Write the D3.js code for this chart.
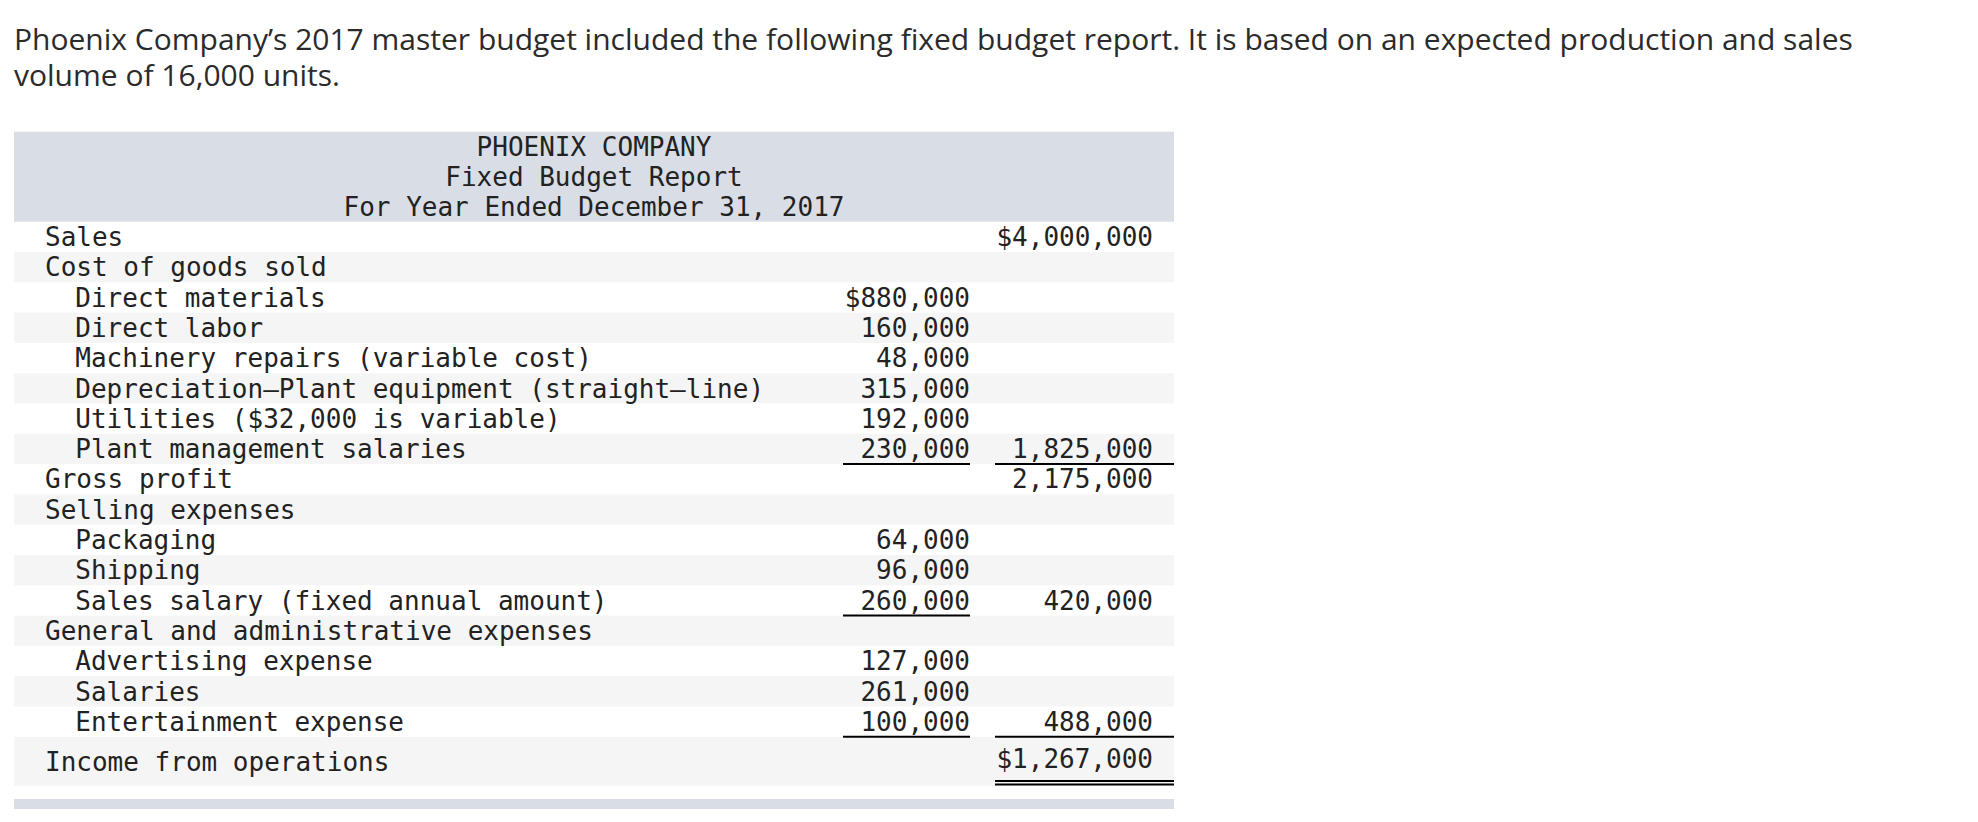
<!DOCTYPE html>
<html>
<head>
<meta charset="utf-8">
<script src="https://cdn.jsdelivr.net/npm/d3@7"></script>
<style>
  html, body { margin: 0; padding: 0; background: #ffffff; }
  svg { display: block; }
</style>
</head>
<body>
<svg id="chart" width="1978" height="822"></svg>
<script>
// ---------- data ----------
const introLines = [
  "Phoenix Company\u2019s 2017 master budget included the following fixed budget report. It is based on an expected production and sales",
  "volume of 16,000 units."
];
const headerLines = ["PHOENIX COMPANY", "Fixed Budget Report", "For Year Ended December 31, 2017"];
const labels = [
  "Sales",
  "Cost of goods sold",
  "Direct materials",
  "Direct labor",
  "Machinery repairs (variable cost)",
  "Depreciation\u2014Plant equipment (straight\u2013line)",
  "Utilities ($32,000 is variable)",
  "Plant management salaries",
  "Gross profit",
  "Selling expenses",
  "Packaging",
  "Shipping",
  "Sales salary (fixed annual amount)",
  "General and administrative expenses",
  "Advertising expense",
  "Salaries",
  "Entertainment expense",
  "Income from operations"
];
const indentLevels = [0,0,1,1,1,1,1,1,0,0,1,1,1,0,1,1,1,0];
const col1Values = [null,null,880000,160000,48000,315000,192000,230000,null,null,64000,96000,260000,null,127000,261000,100000,null];
const col2Values = [4000000,null,null,null,null,null,null,1825000,2175000,null,null,null,420000,null,null,null,488000,1267000];
const col1Dollar = [2];
const col2Dollar = [0,17];
const col1Underline = [7,12,16];
const col2Underline = [7,16];
const col2DoubleUnderline = [17];

// ---------- layout ----------
const svg = d3.select("#chart");
const tableLeft = 14, tableRight = 1174;
const headerTop = 131.7, headerRowH = 30;
const bodyTop = 221.7, lastRowTop = 736.8, lastRowBottom = 786;
const nRows = labels.length;
const HEADER_BG = "#d9dde6", ZEBRA = "#f5f5f5", INK = "#222222";
const MONO = "'DejaVu Sans Mono', monospace";

// row scale (row index -> top y)
const y = d3.scaleLinear().domain([0, nRows - 1]).range([bodyTop, lastRowTop]);
const rowTop = i => y(i);
const rowBottom = i => (i < nRows - 1 ? y(i + 1) : lastRowBottom);

// column scales
const colX = d3.scaleOrdinal().domain(["col1", "col2"]).range([970, 1153]);
const colLineStart = d3.scaleOrdinal().domain(["col1", "col2"]).range([843, 995]);
const colLineEnd = d3.scaleOrdinal().domain(["col1", "col2"]).range([970, 1174]);
const labelX = d3.scaleLinear().domain([0, 1]).range([45, 75.3]);

const fmt = d3.format(",");

// ---------- intro text ----------
const intro = svg.append("g").attr("class", "intro")
  .attr("font-family", "'Open Sans', Lato, sans-serif")
  .attr("fill", "#2b2b2b");
const introBase = [49.5, 86];
const introT = intro.selectAll("text").data(introLines).join("text")
  .attr("x", 14)
  .attr("y", (d, i) => introBase[i])
  .attr("font-size", 28)
  .text(d => d);
const w0 = introT.nodes()[0].getComputedTextLength();
const fs = 28 * 1840 / w0;
introT.attr("font-size", fs);

// ---------- header band ----------
svg.append("rect")
  .attr("x", tableLeft).attr("y", headerTop)
  .attr("width", tableRight - tableLeft).attr("height", bodyTop - headerTop)
  .attr("fill", HEADER_BG);
svg.append("g").selectAll("text").data(headerLines).join("text")
  .attr("x", (tableLeft + tableRight) / 2)
  .attr("y", (d, i) => headerTop + headerRowH * (i + 1) - 6)
  .attr("text-anchor", "middle")
  .attr("font-family", MONO).attr("font-size", 26).attr("fill", INK)
  .text(d => d);

// ---------- zebra rows ----------
const rows = d3.range(nRows);
svg.append("g").selectAll("rect").data(rows.filter(i => i % 2 === 1)).join("rect")
  .attr("x", tableLeft).attr("width", tableRight - tableLeft)
  .attr("y", i => rowTop(i)).attr("height", i => rowBottom(i) - rowTop(i))
  .attr("fill", ZEBRA);

// baseline for each row
const labelBase = i => (i === nRows - 1 ? 771 : rowBottom(i) - 6);
const numBase = i => (i === nRows - 1 ? 768 : rowBottom(i) - 6);

// ---------- labels ----------
svg.append("g").selectAll("text").data(rows).join("text")
  .attr("x", i => labelX(indentLevels[i]))
  .attr("y", i => labelBase(i))
  .attr("font-family", MONO).attr("font-size", 26).attr("fill", INK)
  .attr("xml:space", "preserve")
  .text(i => labels[i]);

// ---------- numbers ----------
function drawCol(key, values, dollarRows) {
  const data = rows.filter(i => values[i] !== null);
  svg.append("g").selectAll("text").data(data).join("text")
    .attr("x", colX(key))
    .attr("y", i => numBase(i))
    .attr("text-anchor", "end")
    .attr("font-family", MONO).attr("font-size", 26).attr("fill", INK)
    .text(i => (dollarRows.includes(i) ? "$" : "") + fmt(values[i]));
}
drawCol("col1", col1Values, col1Dollar);
drawCol("col2", col2Values, col2Dollar);

// ---------- underlines ----------
function drawUnder(key, rowList, offsets) {
  const g = svg.append("g");
  rowList.forEach(i => {
    offsets.forEach(off => {
      g.append("line")
        .attr("x1", colLineStart(key)).attr("x2", colLineEnd(key))
        .attr("y1", off(i)).attr("y2", off(i))
        .attr("stroke", "#000").attr("stroke-width", 2);
    });
  });
}
drawUnder("col1", col1Underline, [i => rowBottom(i)]);
drawUnder("col2", col2Underline, [i => rowBottom(i)]);
drawUnder("col2", col2DoubleUnderline, [i => rowBottom(i) - 5, i => rowBottom(i) - 1.5]);

// ---------- bottom bar ----------
svg.append("rect")
  .attr("x", tableLeft).attr("y", 799)
  .attr("width", tableRight - tableLeft).attr("height", 10)
  .attr("fill", HEADER_BG);
</script>
</body>
</html>
